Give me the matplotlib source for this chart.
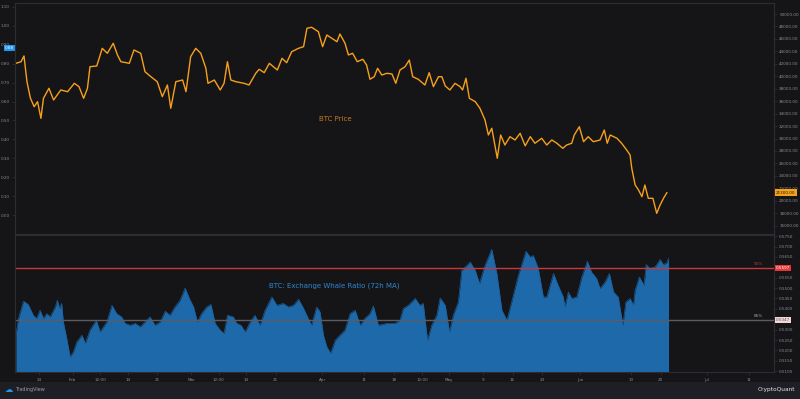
import numpy as np
import matplotlib
matplotlib.use("Agg")
import matplotlib.pyplot as plt
import matplotlib.transforms as mtransforms

# Daten (Tage seit 1. Jan 2022)
price_day = [17.6, 18.8, 19.5, 20.2, 21.0, 21.9, 22.7, 23.5, 24.1, 25.4,
             26.5, 28.2, 29.8, 31.4, 32.5, 33.6, 34.5, 35.1, 36.7, 38.0,
             39.2, 40.6, 41.6, 42.4, 44.4, 45.5, 47.1, 48.1, 49.5, 51.0,
             52.2, 53.4, 54.2, 55.4, 57.0, 57.8, 58.9, 60.1, 61.3, 62.5,
             63.0, 64.5, 65.9, 66.8, 67.6, 68.4, 69.6, 71.5, 72.7, 74.3,
             75.1, 76.3, 77.5,
             79.4, 80.5, 81.6, 82.8, 84.4, 85.6, 86.4, 87.5, 89.1, 90.1,
             91.1, 92.3, 93.5, 94.2, 95.4, 96.2, 97.2, 98.3, 99.6, 100.5,
             101.3, 102.3, 103.1, 104.1, 105.3, 106.5, 107.4, 108.4, 109.6, 110.6,
             111.4, 112.7, 114.3, 115.3, 116.3, 117.5, 118.3, 119.1, 120.2, 121.4,
             122.6, 123.2, 124.0, 124.8, 126.2, 127.3, 128.5, 129.3, 130.1, 130.9,
             131.4, 132.2, 133.2, 134.4, 135.6, 136.8, 138.0, 139.2, 140.3, 141.9,
             143.1, 144.3, 145.5, 146.9, 147.8, 149.0, 149.6, 150.8, 151.8, 152.9,
             154.1, 155.7, 156.7, 157.4, 158.1, 159.7, 160.8, 162.0, 162.8, 163.2,
             164.0, 164.8, 165.6, 166.3, 167.1, 168.2, 169.1, 169.9, 170.7, 171.5]
price = [42080, 42340, 43260, 39130, 36510, 35110, 35920, 33250, 36460, 38070,
         36190, 37800, 37520, 38870, 38330, 36460, 38070, 41540, 41650, 44490,
         43690, 45300, 43420, 42340, 42080, 44220, 43690, 40740, 39930, 39130,
         36720, 38600, 34860, 39130, 39400, 37520, 43140, 44490, 43690, 41280,
         38870, 39400, 37800, 38870, 42340, 39400, 39130, 38870, 38600, 40480,
         41120, 40580, 42080,
         41010, 42890, 42180, 43950, 44490, 44750, 47710, 47870, 47160, 44750,
         46630, 46100, 45550, 46790, 45300, 43420, 43690, 42340, 42730, 41810,
         39520, 39930, 41280, 40200, 40480, 40370, 38870, 41010, 41540, 42610,
         39930, 39520, 38600, 40580, 38330, 39930, 39930, 38440, 37800, 38870,
         38330, 37800, 39680, 36460, 35920, 34860, 32980, 30570, 31650, 28690,
         26830, 30570, 28960, 30300, 29770, 30840, 28830, 30300, 29240, 30040,
         28960, 29770, 29240, 28430, 28960, 29240, 30570, 31900, 29490, 30300,
         29490, 29770, 31370, 29240, 30570, 30040, 29240, 28160, 27360, 25220,
         22540, 21740, 20660, 22540, 20400, 20400, 17990, 19330, 20400, 21300]

whale_day = [17.6, 18.2, 19.4, 20.5, 21.7, 22.5, 23.3, 24.1, 24.9, 25.7,
             26.9, 27.4, 27.9, 28.4, 28.8, 29.6, 30.4, 31.2, 32.0, 33.2,
             34.0, 35.1, 36.6, 37.5, 39.1, 40.3, 41.4, 42.6, 43.4, 44.6,
             45.8, 47.0, 48.1, 49.3, 50.5, 51.7, 52.9, 54.0, 55.2, 56.4,
             57.6, 58.6, 59.6, 60.5, 61.5, 62.7, 63.7, 64.7, 65.9, 66.8,
             67.6, 69.0, 69.8, 70.8, 71.8, 73.0, 74.1, 75.3, 76.5, 78.1,
             79.3, 80.8, 82.0, 83.2, 84.4, 85.6, 86.7, 87.5, 88.7, 89.5,
             90.3, 91.1, 92.0, 93.1, 94.2, 95.4, 96.6, 97.8, 99.0, 100.1,
             101.3, 102.1, 103.3, 105.3, 107.2, 108.4, 109.2, 110.4, 112.0, 113.1,
             113.9, 114.9, 115.9, 117.1, 117.9, 119.1, 120.1, 121.0, 122.2, 123.0,
             124.2, 125.0, 126.2, 127.2, 128.5, 130.1, 131.3, 132.5, 133.7, 134.8,
             136.4, 138.2, 139.2, 139.9, 141.1, 142.3, 143.1, 144.7, 145.8, 147.0,
             147.4, 148.2, 149.0, 150.2, 151.4, 152.7, 153.7, 154.9, 155.7, 156.9,
             157.9, 158.9, 160.0, 161.1, 161.8, 162.8, 163.6, 164.0, 165.0, 166.1,
             166.6, 167.5, 168.7, 169.9, 170.7, 171.5, 171.9]
whale = [0.5273, 0.5354, 0.5437, 0.5421, 0.5369, 0.5354, 0.5393, 0.5354, 0.5377, 0.5361,
         0.5409, 0.5441, 0.5402, 0.5426, 0.5337, 0.5258, 0.5169, 0.5193, 0.5241, 0.5273,
         0.5234, 0.5297, 0.5345, 0.5289, 0.5337, 0.5417, 0.5377, 0.5361, 0.5330, 0.5321,
         0.5330, 0.5313, 0.5337, 0.5361, 0.5321, 0.5337, 0.5389, 0.5369, 0.5409, 0.5441,
         0.5500, 0.5450, 0.5409, 0.5337, 0.5377, 0.5409, 0.5421, 0.5330, 0.5297, 0.5282,
         0.5369, 0.5361, 0.5330, 0.5321, 0.5289, 0.5337, 0.5369, 0.5321, 0.5393, 0.5457,
         0.5417, 0.5426, 0.5409, 0.5417, 0.5446, 0.5402, 0.5354, 0.5321, 0.5409, 0.5385,
         0.5273, 0.5217, 0.5186, 0.5249, 0.5273, 0.5297, 0.5377, 0.5393, 0.5321, 0.5354,
         0.5377, 0.5414, 0.5321, 0.5330, 0.5330, 0.5345, 0.5402, 0.5417, 0.5450, 0.5417,
         0.5426, 0.5249, 0.5321, 0.5369, 0.5452, 0.5417, 0.5289, 0.5369, 0.5433, 0.5585,
         0.5609, 0.5625, 0.5585, 0.5522, 0.5609, 0.5686, 0.5570, 0.5393, 0.5345, 0.5433,
         0.5561, 0.5677, 0.5649, 0.5657, 0.5594, 0.5457, 0.5457, 0.5570, 0.5513, 0.5457,
         0.5409, 0.5481, 0.5450, 0.5457, 0.5553, 0.5629, 0.5577, 0.5546, 0.5498, 0.5529,
         0.5570, 0.5481, 0.5457, 0.5321, 0.5433, 0.5450, 0.5417, 0.5489, 0.5553, 0.5513,
         0.5613, 0.5594, 0.5601, 0.5637, 0.5613, 0.5622, 0.5644]

pct_90 = 0.5597
pct_85 = 0.5347

x_tick_days = [23, 31, 37.5, 44, 51, 59, 65.5, 72, 79, 90, 100, 107, 113.7,
               120, 128, 135, 142, 151, 163, 170, 181, 191]
x_tick_labels = ["24", "Feb", "12:00", "14", "21", "Mar", "12:00", "14", "21",
                 "Apr", "11", "18", "12:00", "May", "9", "16", "23", "Jun",
                 "13", "20", "Jul", "11"]

left_ticks = np.round(np.arange(0.0, 1.101, 0.1), 2)
price_ticks = np.arange(16000, 50001, 2000)
whale_ticks = [0.5100, 0.5150, 0.5200, 0.5250, 0.5300, 0.5400, 0.5450,
               0.5500, 0.5550, 0.5650, 0.5700, 0.5750]

# Farben
bg = "#151518"
strip = "#1d1f24"
grid_c = "#2c2d33"
tick_c = "#8b8c92"
orange = "#f7a01a"
blue = "#1d69aa"

fig = plt.figure(figsize=(8, 3.99), dpi=100, facecolor=bg)

L, W = 14.7 / 800, 759.6 / 800
ax1 = fig.add_axes([L, 165 / 399, W, 230.7 / 399], facecolor=bg)
ax1r = ax1.twinx()
ax2 = fig.add_axes([L, 27 / 399, W, 137.5 / 399], facecolor=bg, sharex=ax1)

# Bodenstreifen
fig.patches.append(plt.Rectangle((0, 0), 1, 17 / 399, transform=fig.transFigure,
                                 facecolor=strip, edgecolor="none", zorder=0))

for a in (ax1, ax1r, ax2):
    for s in a.spines.values():
        s.set_color(grid_c)
        s.set_linewidth(0.8)
    a.tick_params(colors=grid_c, labelcolor=tick_c, labelsize=3.0,
                  length=2, width=0.6, pad=1.5)

# Oberes Panel: Preis
ax1r.plot(price_day, price, color=orange, lw=1.0, solid_joinstyle="round")
ax1r.set_ylim(14668, 51720)
ax1r.set_yticks(price_ticks)
ax1r.set_yticklabels(["%.2f" % p for p in price_ticks])
ax1.set_ylim(-0.0986, 1.118)
ax1.set_yticks(left_ticks)
ax1.set_yticklabels(["%.2f" % v for v in left_ticks])
ax1.set_xlim(17.3, 196.9)
ax1.tick_params(axis="x", bottom=False, labelbottom=False)

ax1.text(93.0, 0.509, "BTC Price", color="#c9791f", fontsize=5,
         ha="center", va="center")

ax1r.text(1.002, price[-1], "%.2f" % price[-1],
          transform=mtransforms.blended_transform_factory(ax1r.transAxes, ax1r.transData),
          fontsize=3.0, color="#1a1a1a", ha="left", va="center", clip_on=False,
          bbox=dict(fc=orange, ec="none", pad=0.9), zorder=10)
ax1.text(-0.001, 0.882, "0.88",
         transform=mtransforms.blended_transform_factory(ax1.transAxes, ax1.transData),
         fontsize=3.0, color="white", ha="right", va="center", clip_on=False,
         bbox=dict(fc="#2196f3", ec="none", pad=0.9), zorder=10)

# Unteres Panel: Whale Ratio
ax2.fill_between(whale_day, whale, 0.5, color=blue, lw=0)
ax2.plot(whale_day, whale, color="#1a5f9c", lw=0.5)
ax2.set_ylim(0.5096, 0.5758)
ax2.yaxis.tick_right()
ax2.set_yticks(whale_ticks)
ax2.set_yticklabels(["%.4f" % v for v in whale_ticks])
ax2.axhline(pct_90, color="#c8383a", lw=1.0)
ax2.axhline(pct_85, color="#5d5b60", lw=1.0)
tr2 = mtransforms.blended_transform_factory(ax2.transAxes, ax2.transData)
ax2.text(0.985, pct_90 + 0.0008, "90%", transform=tr2,
         color="#b8383a", fontsize=3.0, ha="right", va="bottom")
ax2.text(0.985, pct_85 + 0.0008, "85%", transform=tr2,
         color="#a0a0a6", fontsize=3.0, ha="right", va="bottom")
ax2.text(1.002, pct_90, "%.4f" % pct_90, transform=tr2, fontsize=3.0, color="white",
         ha="left", va="center", clip_on=False, bbox=dict(fc="#e53935", ec="none", pad=0.9), zorder=10)
ax2.text(1.002, pct_85, "%.4f" % pct_85, transform=tr2, fontsize=3.0, color="#555",
         ha="left", va="center", clip_on=False, bbox=dict(fc="#f4d6d8", ec="none", pad=0.9), zorder=10)

ax2.text(77.4, 0.5513, "BTC: Exchange Whale Ratio (72h MA)", color="#2f86d1",
         fontsize=5, ha="left", va="center")

ax2.set_xticks(x_tick_days)
ax2.set_xticklabels(x_tick_labels)
ax2.tick_params(axis="x", length=2, pad=2.5)
ax2.set_xlim(17.3, 196.9)

# Logos
fig.text(0.006, 9 / 399, "\u2601", color="#2196f3", fontsize=6, va="center", ha="left")
fig.text(0.019, 9 / 399, "TradingView", color="#9aa0aa", fontsize=3.5, va="center", ha="left")
fig.text(0.994, 9 / 399, "CryptoQuant", color="#e8e8ea", fontsize=4.2, va="center", ha="right")

fig.savefig("out.png", dpi=100, facecolor=bg)
